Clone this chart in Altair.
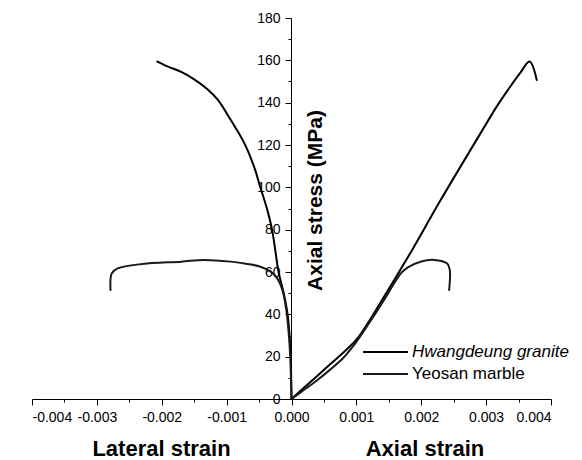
import altair as alt
import pandas as pd

series_names = ["Hwangdeung granite", "Yeosan marble"]

granite_lateral_strain = [0, -0.000005, -0.00001, -0.00003, -0.00006, -0.00012, -0.0002, -0.00023, -0.0003,
                          -0.00037, -0.00048, -0.00058, -0.00073, -0.00094, -0.00114, -0.0013, -0.0015,
                          -0.0017, -0.0019, -0.00207]
granite_lateral_stress = [0, 10, 20, 30, 40, 50, 60, 66, 80, 89, 100, 110, 121, 132, 141.5, 146.5, 151,
                          154.5, 157, 159.4]

granite_axial_strain = [0, 0.0002, 0.0004, 0.0006, 0.0008, 0.001, 0.0012, 0.0014, 0.00163, 0.00188, 0.00229,
                        0.00296, 0.00316, 0.00337, 0.00352, 0.00367, 0.00378]
granite_axial_stress = [0, 5.5, 11, 16.5, 22, 28, 37, 47, 58.6, 71.5, 93.5, 127.9, 138, 147.5, 153.8, 159.4, 150.7]

marble_lateral_strain = [0, -0.000008, -0.00002, -0.00004, -0.00008, -0.00014, -0.00022, -0.00032, -0.00048,
                         -0.00068, -0.00094, -0.00135, -0.0017, -0.0023, -0.00268, -0.00277, -0.00279]
marble_lateral_stress = [0, 10, 20, 30, 42, 51.5, 57, 60.2, 62.5, 63.8, 64.9, 65.7, 64.9, 63.8, 61.7, 59.4, 51.5]

marble_axial_strain = [0, 0.0002, 0.0004, 0.0006, 0.0008, 0.001, 0.0012, 0.0014, 0.00155, 0.00163, 0.0017,
                       0.0018, 0.002, 0.0022, 0.0024, 0.00244, 0.00243]
marble_axial_stress = [0, 4.5, 9, 14, 19.5, 27, 36, 45.5, 53, 57, 59.8, 62.3, 65, 65.7, 64, 61, 51.5]

x_major = [-0.004, -0.003, -0.002, -0.001, 0.0, 0.001, 0.002, 0.003, 0.004]
x_minor = [-0.0035, -0.0025, -0.0015, -0.0005, 0.0005, 0.0015, 0.0025, 0.0035]
y_major = [0, 20, 40, 60, 80, 100, 120, 140, 160, 180]
y_minor = [10, 30, 50, 70, 90, 110, 130, 150, 170]

rows = []
for name, branch, xs, ys in [
    (series_names[0], "lateral", granite_lateral_strain, granite_lateral_stress),
    (series_names[0], "axial", granite_axial_strain, granite_axial_stress),
    (series_names[1], "lateral", marble_lateral_strain, marble_lateral_stress),
    (series_names[1], "axial", marble_axial_strain, marble_axial_stress),
]:
    for i, (xv, yv) in enumerate(zip(xs, ys)):
        rows.append({"series": name, "branch": name + "-" + branch, "idx": i, "strain": xv, "stress": yv})
df = pd.DataFrame(rows)

FONT = "Liberation Sans"
x_scale = alt.Scale(domain=[-0.004, 0.004], nice=False, zero=False)
y_scale = alt.Scale(domain=[0, 180], nice=False)
Y_OFFSET = -259

label_expr = "(datum.value < 0 ? '-' : '') + format(abs(datum.value), '.3f')"

lines = alt.Chart(df).mark_line(strokeWidth=2, strokeJoin="round", strokeCap="round",
                                interpolate="catmull-rom").encode(
    x=alt.X("strain:Q", scale=x_scale,
            axis=alt.Axis(values=x_major, labelExpr=label_expr, grid=False, tickSize=6,
                          tickColor="black", domainColor="black", labelColor="black",
                          labelFont=FONT, labelFontSize=14, labelPadding=5,
                          title="Lateral strain", titleFont=FONT, titleFontSize=22,
                          titleFontWeight="bold", titleColor="black", titleX=129, titleY=56,
                          titleAlign="center", titleBaseline="alphabetic")),
    y=alt.Y("stress:Q", scale=y_scale,
            axis=alt.Axis(values=y_major, grid=False, tickSize=6, offset=Y_OFFSET,
                          tickColor="black", domainColor="black", labelColor="black",
                          labelFont=FONT, labelFontSize=14, labelPadding=5,
                          title="Axial stress (MPa)", titleFont=FONT, titleFontSize=21,
                          titleFontWeight="bold", titleColor="black", titleX=30, titleY=182,
                          titleAngle=270, titleAlign="center", titleBaseline="alphabetic")),
    color=alt.Color("series:N", scale=alt.Scale(domain=series_names, range=["#000000", "#1a1a1a"]),
                    legend=alt.Legend(title=None, orient="none", legendX=345, legendY=325.5,
                                      symbolType="M-4.5,0H4.5", symbolSize=100, symbolStrokeWidth=2,
                                      labelFont=FONT, labelFontSize=17, labelColor="black",
                                      labelFontStyle=alt.expr(
                                          "datum.value == 'Hwangdeung granite' ? 'italic' : 'normal'"),
                                      labelOffset=18, rowPadding=4, padding=0)),
    detail="branch:N",
    order="idx:Q",
)

minor = alt.Chart(df).mark_point(opacity=0).encode(
    x=alt.X("strain:Q", scale=x_scale,
            axis=alt.Axis(values=x_minor, orient="bottom", labels=False, domain=False, grid=False,
                          tickSize=3, tickColor="black",
                          title="Axial strain", titleFont=FONT, titleFontSize=22,
                          titleFontWeight="bold", titleColor="black", titleX=392.5, titleY=56,
                          titleAlign="center", titleBaseline="alphabetic")),
    y=alt.Y("stress:Q", scale=y_scale,
            axis=alt.Axis(values=y_minor, orient="left", labels=False, domain=False, grid=False,
                          tickSize=3, tickColor="black", offset=Y_OFFSET, title=None)),
)

chart = alt.layer(lines, minor).resolve_axis(x="independent", y="independent").properties(
    width=519, height=381,
    autosize=alt.AutoSizeParams(type="none"),
    padding={"left": 24, "top": 10, "right": 23, "bottom": 62},
).configure_view(stroke=None)

chart.save("out.html", embed_options={"renderer": "svg", "actions": False})
